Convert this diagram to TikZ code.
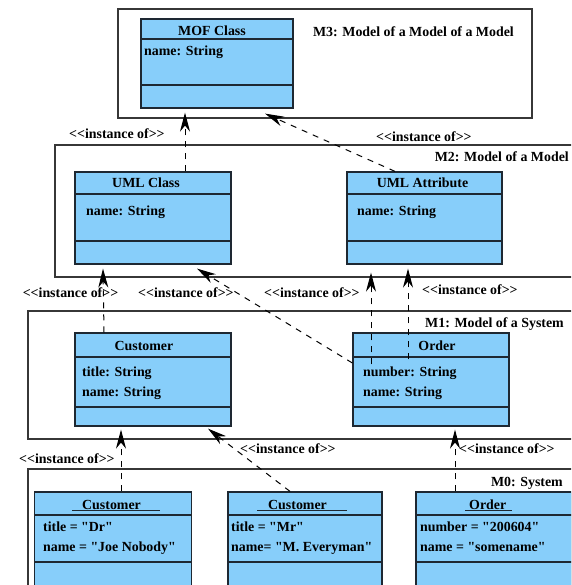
\documentclass[tikz,border=0pt]{standalone}
\usepackage{fontspec}
\newfontfamily\lbfont{Liberation Serif}
\usetikzlibrary{arrows.meta,calc}
\definecolor{classfill}{RGB}{135,206,250}
\definecolor{classline}{RGB}{30,40,50}
\definecolor{frameline}{RGB}{55,55,55}
\tikzset{
  txt/.style={font=\lbfont\bfseries\fontsize{13.9}{16}\selectfont, inner sep=0pt, anchor=base west},
  ctxt/.style={txt, anchor=base},
  rtxt/.style={txt, anchor=base east},
  cbox/.style={draw=classline, fill=classfill, line width=1.2pt, inner sep=0pt, rectangle},
  cline/.style={draw=classline, line width=1.2pt},
  frame/.style={draw=frameline, fill=white, line width=1.3pt},
  uline/.style={draw=classline, line width=0.9pt},
  inst/.style={draw=black, line width=1pt, dash pattern=on 6pt off 6pt,
    -{Stealth[length=19pt,width=10pt,inset=6pt]}}
}
\begin{document}
\begin{tikzpicture}[x=1pt,y=-1pt]
\clip (0,0) rectangle (571,585);
\fill[white] (0,0) rectangle (571,585);

% ---- level frames ----
\draw[frame] (118,9) rectangle (532,118);
\draw[frame] (55,145) rectangle (590,277);
\draw[frame] (28,311) rectangle (590,439);
\draw[frame] (28,469) rectangle (590,600);

\node[rtxt] (m3lbl) at (514,36.5) {M3: Model of a Model of a Model};
\node[rtxt] (m2lbl) at (569,161.6) {M2: Model of a Model};
\node[rtxt] (m1lbl) at (564,327.6) {M1: Model of a System};
\node[rtxt] (m0lbl) at (563,486.6) {M0: System};

% ---- M3 ----
\node[cbox, minimum width=152pt, minimum height=89pt] (mof) at (217,63.5) {};
\draw[cline] (mof.west |- 0,39) -- (mof.east |- 0,39);
\draw[cline] (mof.west |- 0,85) -- (mof.east |- 0,85);
\node[ctxt] (mofh) at (212,36) {MOF Class};
\node[txt] (mofa) at (144,56) {name: String};

% ---- M2 ----
\node[cbox, minimum width=156pt, minimum height=92pt] (umlc) at (153,218) {};
\draw[cline] (umlc.west |- 0,194) -- (umlc.east |- 0,194);
\draw[cline] (umlc.west |- 0,241) -- (umlc.east |- 0,241);
\node[ctxt] (umlch) at (146,187.6) {UML Class};
\node[txt] (umlca) at (86,215.6) {name: String};

\node[cbox, minimum width=155pt, minimum height=92pt] (umla) at (424.5,218) {};
\draw[cline] (umla.west |- 0,194) -- (umla.east |- 0,194);
\draw[cline] (umla.west |- 0,241) -- (umla.east |- 0,241);
\node[ctxt] (umlah) at (422.5,187.6) {UML Attribute};
\node[txt] (umlaa) at (357,215.6) {name: String};

% ---- M1 ----
\node[cbox, minimum width=156pt, minimum height=93pt] (cust) at (153,379.5) {};
\draw[cline] (cust.west |- 0,357) -- (cust.east |- 0,357);
\draw[cline] (cust.west |- 0,407) -- (cust.east |- 0,407);
\node[ctxt] (custh) at (144,350.6) {Customer};
\node[txt] (custa1) at (82,376.6) {title: String};
\node[txt] (custa2) at (82,396.6) {name: String};

\node[cbox, minimum width=156pt, minimum height=93pt] (order) at (431,379.5) {};
\draw[cline] (order.west |- 0,357) -- (order.east |- 0,357);
\draw[cline] (order.west |- 0,407) -- (order.east |- 0,407);
\node[ctxt] (orderh) at (437,350.6) {Order};
\node[txt] (ordera1) at (363,376.6) {number: String};
\node[txt] (ordera2) at (363,396.6) {name: String};

% ---- M0 ----
\node[cbox, minimum width=157pt, minimum height=100pt] (c1) at (113,542) {};
\draw[cline] (c1.west |- 0,515) -- (c1.east |- 0,515);
\draw[cline] (c1.west |- 0,562) -- (c1.east |- 0,562);
\node[txt] (c1h) at (82,509) {Customer};
\draw[uline] (72,510.5) -- (160,510.5);
\node[txt] (c1a1) at (43,531.6) {title = "Dr"};
\node[txt] (c1a2) at (43,551.6) {name = "Joe Nobody"};

\node[cbox, minimum width=154pt, minimum height=100pt] (c2) at (305,542) {};
\draw[cline] (c2.west |- 0,515) -- (c2.east |- 0,515);
\draw[cline] (c2.west |- 0,562) -- (c2.east |- 0,562);
\node[txt] (c2h) at (268,509) {Customer};
\draw[uline] (257,510.5) -- (347,510.5);
\node[txt] (c2a1) at (231,531.6) {title = "Mr"};
\node[txt] (c2a2) at (231,551.6) {name= "M. Everyman"};

\node[cbox, minimum width=156pt, minimum height=100pt] (o1) at (494,542) {};
\draw[cline] (o1.west |- 0,515) -- (o1.east |- 0,515);
\draw[cline] (o1.west |- 0,562) -- (o1.east |- 0,562);
\node[txt] (o1h) at (469,509) {Order};
\draw[uline] (465,510.5) -- (512,510.5);
\node[txt] (o1a1) at (420,531.6) {number = "200604"};
\node[txt] (o1a2) at (420,551.6) {name = "somename"};

% ---- instance-of labels ----
\node[txt] (l1) at (69,138.6) {<<instance of>>};
\node[txt] (l2) at (376,141.6) {<<instance of>>};
\node[txt] (l3) at (22.6,297.6) {<<instance of>>};
\node[txt] (l4) at (138,297.6) {<<instance of>>};
\node[txt] (l5) at (264,297.6) {<<instance of>>};
\node[txt] (l6) at (422,294.6) {<<instance of>>};
\node[txt] (l7) at (19,463.6) {<<instance of>>};
\node[txt] (l8) at (240,453.6) {<<instance of>>};
\node[txt] (l9) at (459,453.6) {<<instance of>>};

% ---- instance-of connectors ----
\draw[inst] (umlc.north -| 185,0) -- ($(mof.south -| 185,0)+(0,4)$);
\draw[inst] (umla.north -| 395,0) -- ($(mof.south -| 265,0)+(0,5)$);
\draw[inst] (cust.north -| 104,0) -- ($(umlc.south -| 103,0)+(0,4)$);
\draw[inst] (order.west |- 0,363) -- ($(umlc.south -| 197,0)+(0,4)$);
\draw[inst] ($(order.north -| 371,0)+(0,32)$) -- ($(umla.south -| 371,0)+(0,8)$);
\draw[inst] ($(order.north -| 408,0)+(0,27)$) -- ($(umla.south -| 408,0)+(0,4)$);
\draw[inst] (c1.north -| 121,0) -- ($(cust.south -| 121,0)+(0,3)$);
\draw[inst] (c2.north -| 290,0) -- ($(cust.south -| 208,0)+(0,2)$);
\draw[inst] (o1.north -| 455,0) -- ($(order.south -| 455,0)+(0,3)$);
\end{tikzpicture}
\end{document}
